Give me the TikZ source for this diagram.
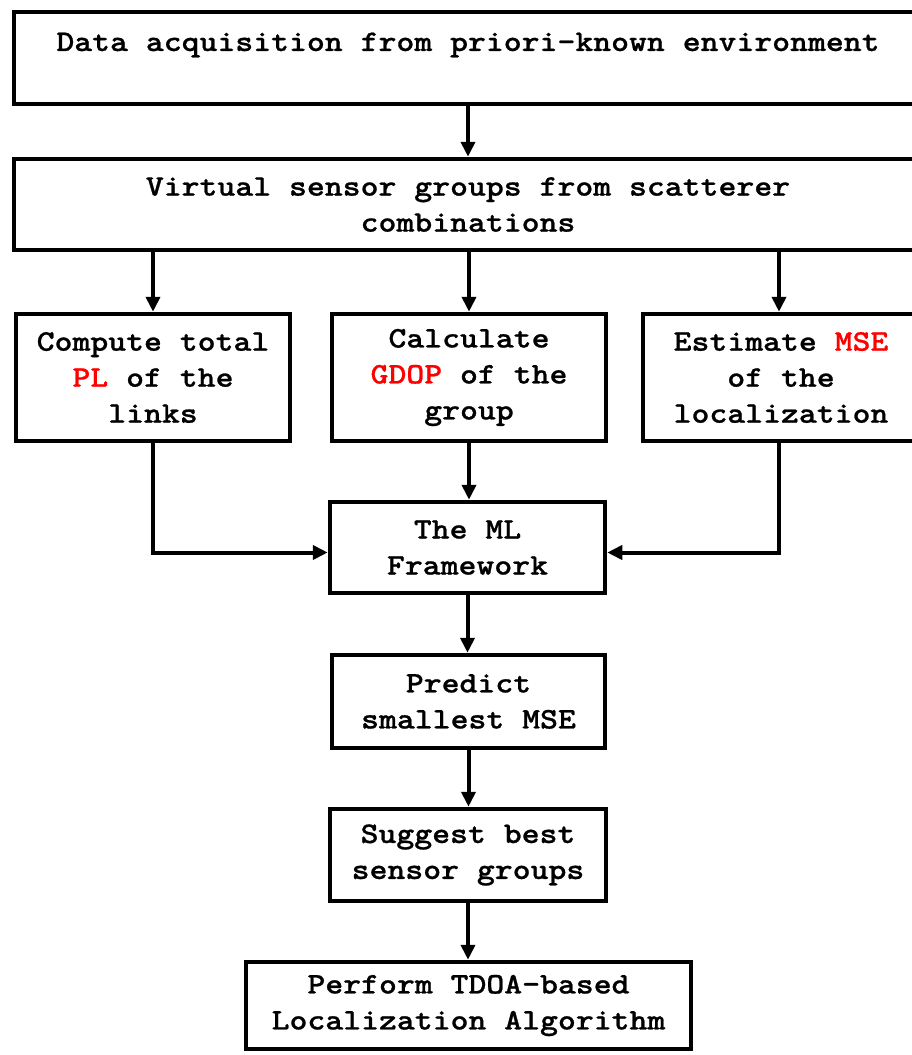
\documentclass[tikz,border=0pt]{standalone}
\usepackage{fontspec}
\newfontfamily\cbf[FakeStretch=1.14,FakeBold=0.8]{lmmonolt10-bold.otf}
\usetikzlibrary{arrows.meta,calc}
\definecolor{hl}{RGB}{255,0,0}
\begin{document}
\begin{tikzpicture}[x=1pt,y=-1pt,
  box/.style={draw=black,line width=4.5pt,inner sep=0pt},
  txt/.style={font=\cbf\fontsize{29.9}{36}\selectfont,align=center,inner sep=0pt},
  arr/.style={line width=4pt,-{Triangle[length=15pt,width=14pt]}}]
\useasboundingbox (0,0) rectangle (912,1055);
\clip (0,0) rectangle (912,1055);
% boxes
\node[box,minimum width=928pt,minimum height=92pt] (b1) at (478,58) {};
\node[box,minimum width=928pt,minimum height=91pt] (b2) at (478,204.5) {};
\node[box,minimum width=274pt,minimum height=127pt] (a) at (153,377.5) {};
\node[box,minimum width=274pt,minimum height=127pt] (b) at (469,377.5) {};
\node[box,minimum width=296pt,minimum height=127pt] (c) at (791,377.5) {};
\node[box,minimum width=275pt,minimum height=91pt] (ml) at (467.5,547.5) {};
\node[box,minimum width=273pt,minimum height=93pt] (pr) at (468.5,701.5) {};
\node[box,minimum width=276pt,minimum height=92pt] (sg) at (468,855) {};
\node[box,minimum width=445pt,minimum height=87pt] (pf) at (468.5,1005.5) {};
% texts
\node[txt] (t1) at (468,45) {Data acquisition from priori-known environment};
\node[txt] (t2) at (468,204.5) {Virtual sensor groups from scatterer\\combinations};
\node[txt] (ta) at (a) {Compute total\\\textcolor{hl}{PL} of the\\links};
\node[txt] (tb) at (b) {Calculate\\\textcolor{hl}{GDOP} of the\\group};
\node[txt] (tc) at (781,377.5) {Estimate \textcolor{hl}{MSE}\\of the\\localization};
\node[txt] (tml) at (ml) {The ML\\Framework};
\node[txt] (tpr) at (pr) {Predict\\smallest MSE};
\node[txt] (tsg) at (sg) {Suggest best\\sensor groups};
\node[txt] (tpf) at (pf) {Perform TDOA-based\\Localization Algorithm};
% connectors
\coordinate (mlw) at ($(ml.west)+(0,5)$);
\coordinate (mle) at ($(ml.east)+(0,5)$);
\coordinate (ctop) at ($(c.north)+(-12,0)$);
\coordinate (cbot) at ($(c.south)+(-12,0)$);
\coordinate (b1s) at ($(b1.south)+(-10,0)$);
\draw[arr] (b1s) -- (b1s |- b2.north);
\draw[arr] (b2.south -| a.north) -- (a.north);
\draw[arr] (b2.south -| b.north) -- (b.north);
\draw[arr] (b2.south -| ctop) -- (ctop);
\draw[arr] (b.south) -- (b.south |- ml.north);
\draw[arr] (a.south) |- (mlw);
\draw[arr] (cbot) |- (mle);
\draw[arr] (ml.south) -- (ml.south |- pr.north);
\draw[arr] (pr.south) -- (pr.south |- sg.north);
\draw[arr] (sg.south) -- (sg.south |- pf.north);
\end{tikzpicture}
\end{document}
